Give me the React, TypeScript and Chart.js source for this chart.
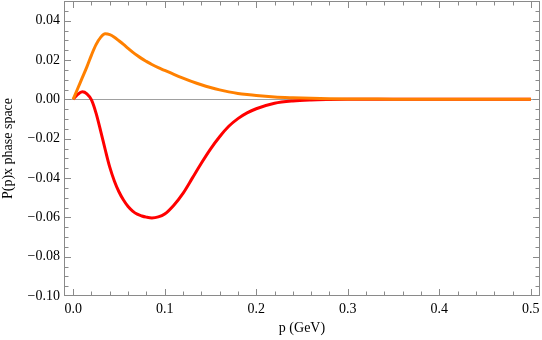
import React, { useEffect, useRef } from "react";
import { Chart, registerables } from "chart.js";

Chart.register(...registerables);

const pValues = [
  0, 0.005, 0.01, 0.015, 0.02, 0.025, 0.03, 0.035, 0.04, 0.045, 0.05, 0.055, 0.06, 0.065, 0.07,
  0.075, 0.08, 0.086, 0.093, 0.1, 0.11, 0.12, 0.13, 0.14, 0.15, 0.16, 0.17, 0.18, 0.19, 0.2,
  0.22, 0.24, 0.26, 0.28, 0.3, 0.35, 0.4, 0.45, 0.5,
];
const orangeSeries = [
  0, 0.0055, 0.011, 0.0165, 0.0225, 0.0278, 0.0315, 0.0333, 0.0329, 0.0316, 0.0298, 0.0279,
  0.0259, 0.024, 0.0223, 0.0207, 0.0193, 0.0177, 0.0161, 0.0147, 0.0127, 0.0108, 0.009, 0.0074,
  0.006, 0.0048, 0.0038, 0.003, 0.0024, 0.0019, 0.0012, 0.0008, 0.0005, 0.0003, 0.0002, 0.0001,
  0, 0, 0,
];
const redSeries = [
  0, 0.0025, 0.0038, 0.0028, -0.0003, -0.007, -0.016, -0.0255, -0.0345, -0.0415, -0.047,
  -0.0512, -0.0545, -0.0568, -0.0584, -0.0593, -0.0599, -0.0603, -0.0598, -0.0583, -0.0538,
  -0.0478, -0.0402, -0.0325, -0.0253, -0.019, -0.0137, -0.0098, -0.0069, -0.0048, -0.002,
  -0.0008, -0.0003, -0.0001, 0, 0, 0, 0, 0,
];
const xTickValues = [0, 0.1, 0.2, 0.3, 0.4, 0.5];
const yTickValues = [-0.1, -0.08, -0.06, -0.04, -0.02, 0, 0.02, 0.04];
const xMinorStep = 0.02;
const yMinorStep = 0.005;

const FRAME = "#8a8a8a";
const SERIF = "'Liberation Serif', 'DejaVu Serif', serif";

const framePlugin = {
  id: "mmaFrame",
  beforeDatasetsDraw(chart: any) {
    const { ctx, chartArea: a, scales } = chart;
    const y = scales.y;
    ctx.save();
    ctx.strokeStyle = "#a0a0a0";
    ctx.lineWidth = 1;
    const y0 = Math.round(y.getPixelForValue(0)) + 0.5;
    ctx.beginPath();
    ctx.moveTo(a.left, y0);
    ctx.lineTo(a.right, y0);
    ctx.stroke();
    ctx.restore();
  },
  afterDatasetsDraw(chart: any) {
    const { ctx, chartArea: a, scales } = chart;
    const x = scales.x;
    const y = scales.y;
    ctx.save();
    ctx.strokeStyle = FRAME;
    ctx.lineWidth = 1;
    ctx.strokeRect(a.left + 0.5, a.top + 0.5, a.right - a.left - 1, a.bottom - a.top - 1);
    const major = 6;
    const minor = 3.5;
    ctx.beginPath();
    const xs: number[] = [];
    for (let i = 0; i <= Math.round(0.5 / xMinorStep); i++) xs.push(i * xMinorStep);
    xs.forEach((v) => {
      const isMajor = xTickValues.some((t) => Math.abs(t - v) < 1e-9);
      const len = isMajor ? major : minor;
      const px = Math.round(x.getPixelForValue(v)) + 0.5;
      ctx.moveTo(px, a.bottom - 1);
      ctx.lineTo(px, a.bottom - 1 - len);
      ctx.moveTo(px, a.top + 1);
      ctx.lineTo(px, a.top + 1 + len);
    });
    const ys: number[] = [];
    for (let i = 0; i <= Math.round(0.15 / yMinorStep); i++) ys.push(-0.1 + i * yMinorStep);
    ys.forEach((v) => {
      const isMajor = yTickValues.some((t) => Math.abs(t - v) < 1e-9);
      const len = isMajor ? major : minor;
      const py = Math.round(y.getPixelForValue(v)) + 0.5;
      if (py < a.top + 2 || py > a.bottom - 1) return;
      ctx.moveTo(a.left + 1, py);
      ctx.lineTo(a.left + 1 + len, py);
      ctx.moveTo(a.right - 1, py);
      ctx.lineTo(a.right - 1 - len, py);
    });
    ctx.stroke();
    ctx.restore();
  },
};

export default function App() {
  const ref = useRef<HTMLCanvasElement | null>(null);
  useEffect(() => {
    document.body.style.margin = "0";
    const canvas = ref.current!;
    const chart = new Chart(canvas, {
      type: "line",
      data: {
        datasets: [
          {
            label: "orange",
            data: pValues.map((p, i) => ({ x: p, y: orangeSeries[i] })),
            borderColor: "#ff8000",
            borderWidth: 3,
            pointRadius: 0,
            cubicInterpolationMode: "monotone",
            order: 0,
          },
          {
            label: "red",
            data: pValues.map((p, i) => ({ x: p, y: redSeries[i] })),
            borderColor: "#ff0000",
            borderWidth: 3,
            pointRadius: 0,
            cubicInterpolationMode: "monotone",
            order: 1,
          },
        ],
      },
      options: {
        animation: false,
        responsive: true,
        maintainAspectRatio: false,
        layout: { padding: { top: 1, right: 2, left: 0, bottom: 0 } },
        plugins: { legend: { display: false }, tooltip: { enabled: false } },
        scales: {
          x: {
            type: "linear",
            min: -0.01,
            max: 0.51,
            grid: { display: false, drawTicks: false },
            border: { display: false },
            afterBuildTicks: (s: any) => {
              s.ticks = xTickValues.map((v) => ({ value: v }));
            },
            afterFit: (s: any) => {
              s.height = 44;
              s.paddingLeft = 0;
              s.paddingRight = 0;
            },
            ticks: {
              padding: 5,
              maxRotation: 0,
              autoSkip: false,
              color: "#000",
              font: { family: SERIF, size: 14 },
              callback: (v: any) => Number(v).toFixed(1),
            },
            title: {
              display: true,
              text: "p (GeV)",
              color: "#000",
              font: { family: SERIF, size: 14 },
              padding: { top: 0, bottom: 3 },
            },
          },
          y: {
            type: "linear",
            min: -0.1,
            max: 0.05,
            grid: { display: false, drawTicks: false },
            border: { display: false },
            afterBuildTicks: (s: any) => {
              s.ticks = yTickValues.map((v) => ({ value: v }));
            },
            afterFit: (s: any) => {
              s.width = 64;
              s.paddingTop = 0;
              s.paddingBottom = 0;
            },
            ticks: {
              padding: 4,
              autoSkip: false,
              color: "#000",
              font: { family: SERIF, size: 14 },
              callback: (v: any) => Number(v).toFixed(2).replace("-", "\u2212"),
            },
            title: {
              display: true,
              text: "P(p)x phase space",
              color: "#000",
              font: { family: SERIF, size: 14 },
              padding: { top: 0, bottom: 0 },
            },
          },
        },
      },
      plugins: [framePlugin],
    } as any);
    return () => chart.destroy();
  }, []);
  return (
    <div style={{ position: "relative", width: 542, height: 340 }}>
      <canvas ref={ref} />
    </div>
  );
}
